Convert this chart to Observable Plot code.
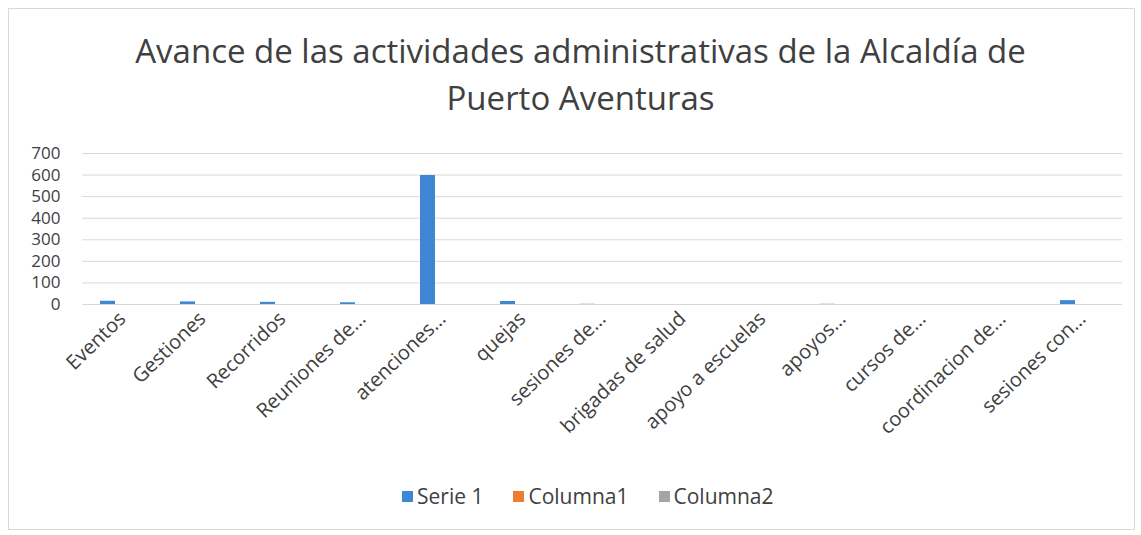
<!DOCTYPE html>
<html>
<head>
<meta charset="utf-8">
<script src="https://cdn.jsdelivr.net/npm/d3@7"></script>
<script src="https://cdn.jsdelivr.net/npm/@observablehq/plot@0.6"></script>
<style>
  html, body { margin: 0; padding: 0; background: #fff; }
  body { width: 1141px; height: 535px; position: relative; overflow: hidden; font-family: "Open Sans", sans-serif; }
  #frame { position: absolute; left: 8px; top: 8px; width: 1125px; height: 520px; border: 1px solid #d9d9d9; }
  #title { position: absolute; left: 10px; top: 27px; width: 1141px; text-align: center; font-family: "Open Sans", sans-serif; font-size: 33px; line-height: 47px; color: #404040; }
  #chart { position: absolute; left: 0; top: 130px; }
  #legend { position: absolute; left: 402px; top: 482px; display: flex; gap: 30px; font-family: "Open Sans", sans-serif; font-size: 21px; color: #404040; white-space: nowrap; }
  #legend span.item { display: inline-flex; align-items: center; }
  #legend span.sw { width: 11px; height: 11px; display: inline-block; margin-right: 4px; }
</style>
</head>
<body>
<div id="frame"></div>
<div id="title">Avance de las actividades administrativas de la Alcaldía de<br>Puerto Aventuras</div>
<div id="chart"></div>
<div id="legend"></div>
<script>
const categories = ["Eventos", "Gestiones", "Recorridos", "Reuniones de…", "atenciones…", "quejas", "sesiones de…", "brigadas de salud", "apoyo a escuelas", "apoyos…", "cursos de…", "coordinacion de…", "sesiones con…"];
const seriesNames = ["Serie 1", "Columna1", "Columna2"];
const serie1 = [15, 12, 10, 8, 598, 14, 1, 0, 0, 1, 0, 0, 18];
const columna1 = [0, 0, 0, 0, 0, 0, 0, 0, 0, 0, 0, 0, 0];
const columna2 = [0, 0, 0, 0, 0, 0, 0, 0, 0, 0, 0, 0, 0];
const yTicks = [0, 100, 200, 300, 400, 500, 600, 700];
const colors = ["#3f87d5", "#ed7d31", "#a5a5a5"];

const seriesValues = [serie1, columna1, columna2];
const rows = [];
categories.forEach((c, i) => {
  seriesNames.forEach((s, j) => rows.push({category: c, series: s, value: seriesValues[j][i]}));
});

const chart = Plot.plot({
  width: 1141,
  height: 340,
  marginLeft: 82,
  marginRight: 19,
  marginTop: 23,
  marginBottom: 166,
  style: {fontFamily: "Open Sans, sans-serif", color: "#404040", background: "transparent"},
  fx: {domain: categories, padding: 0, label: null, tickRotate: -44, tickSize: 0, tickPadding: 11},
  x: {domain: seriesNames, paddingInner: 0, paddingOuter: 1.095, axis: null},
  y: {domain: [0, 700], ticks: yTicks, label: null, tickSize: 0, tickPadding: 22, tickFormat: d => d},
  color: {domain: seriesNames, range: colors},
  marks: [
    Plot.ruleY(yTicks, {stroke: "#d9d9d9", strokeWidth: 1}),
    Plot.barY(rows, {fx: "category", x: "series", y: "value", fill: "series", inset: 0})
  ]
});
chart.querySelectorAll("g[aria-label='fx-axis tick label'], g[aria-label='fx-axis tick label'] text").forEach(g => { g.setAttribute("font-size", "20"); g.setAttribute("fill", "#404040"); });
chart.querySelectorAll("g[aria-label='y-axis tick label'], g[aria-label='y-axis tick label'] text").forEach(g => { g.setAttribute("font-size", "17"); g.setAttribute("fill", "#404040"); });
document.getElementById("chart").appendChild(chart);

const legend = document.getElementById("legend");
seriesNames.forEach((s, i) => {
  const item = document.createElement("span");
  item.className = "item";
  const sw = document.createElement("span");
  sw.className = "sw";
  sw.style.background = colors[i];
  item.appendChild(sw);
  item.appendChild(document.createTextNode(s));
  legend.appendChild(item);
});
</script>
</body>
</html>
